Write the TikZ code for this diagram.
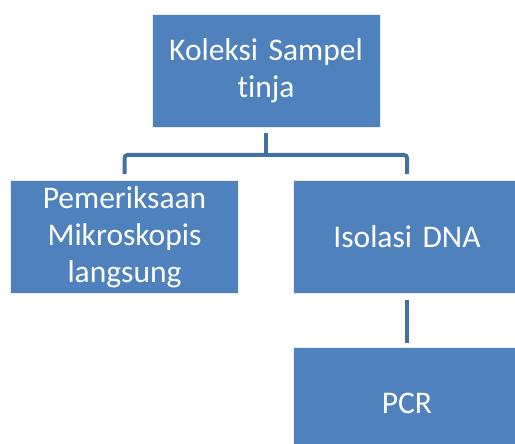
\documentclass[tikz,border=0pt]{standalone}
\usepackage{fontspec}
\setmainfont{Carlito}[Ligatures=NoCommon]
\usepackage{tikz}

\definecolor{boxblue}{HTML}{4F81BD}
\definecolor{lineblue}{HTML}{41719C}

\tikzset{
  stage/.style={rectangle, fill=boxblue, draw=white!85!boxblue, line width=0.6pt,
    minimum width=228pt, minimum height=113pt, text width=220pt, align=center,
    text=white, font=\fontsize{31.5}{37}\selectfont},
  link/.style={draw=lineblue, line width=4pt, rounded corners=3pt}
}

\begin{document}
\begin{tikzpicture}[x=1pt,y=-1pt]
  \useasboundingbox (0,0) rectangle (515,444);
  \clip (0,0) rectangle (515,444);

  \node[stage] (koleksi) at (266,70.5) {Koleksi Sampel\\tinja};
  \node[stage] (mikro) at (124.5,237) {Pemeriksaan\\Mikroskopis\\langsung};
  \node[stage] (isolasi) at (407,237) {Isolasi DNA};
  \node[stage] (pcr) at (407,403.5) {PCR};

  \coordinate (split) at (266,155);
  \draw[link] ([yshift=-6pt]koleksi.south) -- (split);
  \draw[link] ([yshift=6pt]mikro.north) |- (split) -| ([yshift=6pt]isolasi.north);
  \draw[link] ([yshift=-6pt]isolasi.south) -- ([yshift=4pt]pcr.north);
\end{tikzpicture}
\end{document}
